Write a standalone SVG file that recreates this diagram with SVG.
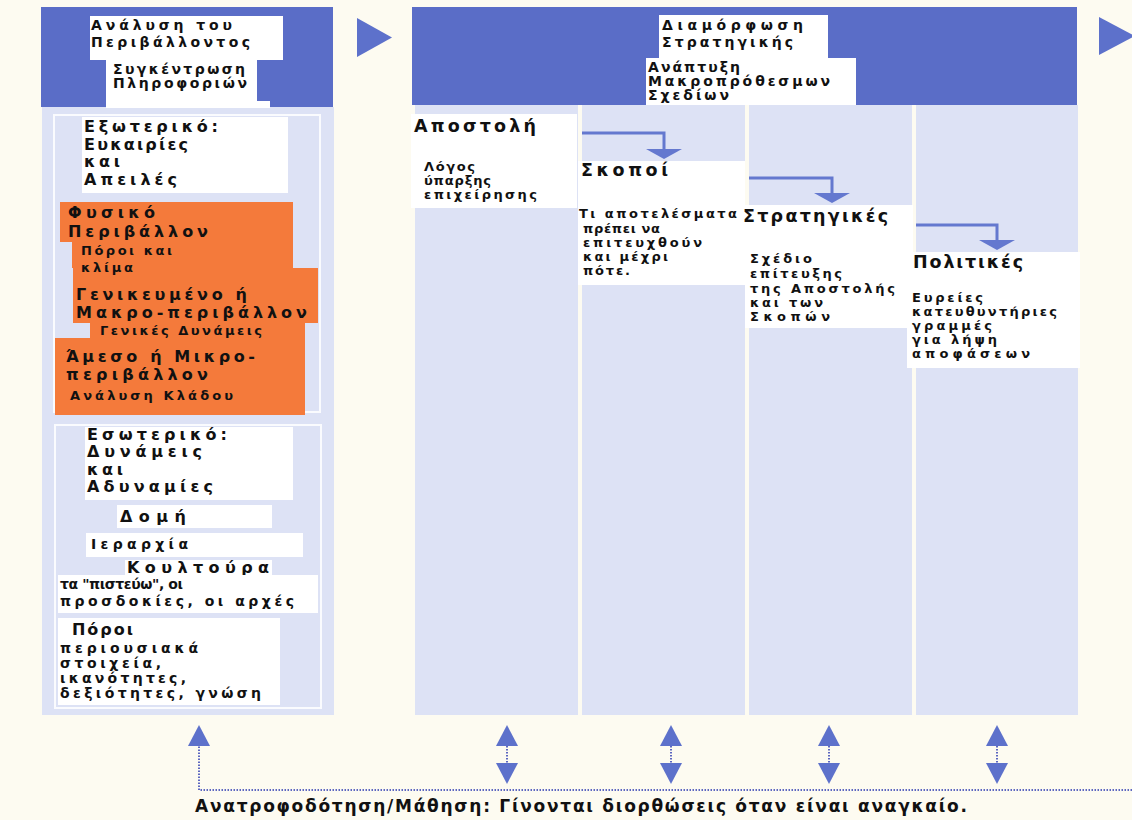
<svg xmlns="http://www.w3.org/2000/svg" width="1132" height="820" viewBox="0 0 1132 820">
  <style>
    .bg { fill: #fdfbf1; }
    .dark { fill: #5a6dc7; }
    .light { fill: #dde2f5; }
    .box { fill: #ffffff; }
    .orange { fill: #f47a3b; }
    .frame { fill: none; stroke: #ffffff; stroke-width: 2; opacity: 0.85; }
    text { font-family: "DejaVu Sans", "Liberation Sans", sans-serif; font-weight: bold; fill: #111111; }
    .big { font-size: 16px; }
    .head { font-size: 17.5px; }
    .mid { font-size: 14px; }
    .sm { font-size: 13px; }
    .foot { font-size: 17px; }
    .bend { fill: none; stroke: #6478cf; stroke-width: 3; }
    .dots { fill: none; stroke: #5c66c0; stroke-width: 2; stroke-dasharray: 1.5 1.5; }
    .tri { fill: #5d71cb; }
  </style>
  <defs>
    <marker id="flatHead" markerUnits="userSpaceOnUse" viewBox="0 0 10 36" markerWidth="10" markerHeight="36" refX="0" refY="18" orient="auto">
      <path d="M0,0 L10,18 L0,36 z" fill="#6478cf"/>
    </marker>
    <marker id="tallHead" markerUnits="userSpaceOnUse" viewBox="0 0 21 22" markerWidth="21" markerHeight="22" refX="0" refY="11" orient="auto-start-reverse">
      <path d="M0,0 L21,11 L0,22 z" fill="#5d71cb"/>
    </marker>
  </defs>

  <rect class="bg" x="0" y="0" width="1132" height="820"/>

  <!-- Left stage: environment analysis -->
  <g id="stage-analysis">
    <rect class="dark" x="41" y="7" width="292" height="100"/>
    <rect class="light" x="42" y="107" width="292" height="608"/>
    <rect class="frame" x="54" y="115" width="266" height="297"/>
    <rect class="frame" x="55" y="425" width="266" height="283"/>
    <polygon class="tri" points="357,18 392,37.5 357,57"/>
  </g>

  <g id="title-analysis">
    <rect class="box" x="90" y="16" width="193" height="44"/>
    <text class="mid" x="91" y="30" textLength="141" lengthAdjust="spacing">Ανάλυση του</text>
    <text class="mid" x="91" y="47" textLength="159" lengthAdjust="spacing">Περιβάλλοντος</text>
  </g>

  <g id="title-information">
    <rect class="box" x="106" y="58" width="151" height="49"/>
    <rect class="box" x="106" y="101" width="164" height="7"/>
    <text class="mid" x="113" y="74" textLength="132" lengthAdjust="spacing">Συγκέντρωση</text>
    <text class="mid" x="113" y="88" textLength="134" lengthAdjust="spacing">Πληροφοριών</text>
  </g>

  <g id="external">
    <rect class="box" x="82" y="117" width="206" height="76"/>
    <text class="big" x="84" y="132" textLength="134" lengthAdjust="spacing">Εξωτερικό:</text>
    <text class="big" x="84" y="150" textLength="104" lengthAdjust="spacing">Ευκαιρίες</text>
    <text class="big" x="84" y="167" textLength="36" lengthAdjust="spacing">και</text>
    <text class="big" x="84" y="185" textLength="93" lengthAdjust="spacing">Απειλές</text>
  </g>

  <g id="macro-env">
    <polygon class="orange" points="73,268 318,268 318,323 305,323 305,338 90,338 90,323 73,323"/>
    <text class="big" x="76" y="300" textLength="171" lengthAdjust="spacing">Γενικευμένο ή</text>
    <text class="big" x="76" y="318" textLength="231" lengthAdjust="spacing">Μακρο-περιβάλλον</text>
    <text class="sm" x="100" y="335" textLength="162" lengthAdjust="spacing">Γενικές Δυνάμεις</text>
  </g>

  <g id="natural-env">
    <polygon class="orange" points="60,202 293,202 293,268 72,268 72,242 60,242"/>
    <text class="big" x="68" y="218" textLength="87" lengthAdjust="spacing">Φυσικό</text>
    <text class="big" x="68" y="237" textLength="140" lengthAdjust="spacing">Περιβάλλον</text>
    <text class="sm" x="81" y="255" textLength="91" lengthAdjust="spacing">Πόροι και</text>
    <text class="sm" x="81" y="272" textLength="52" lengthAdjust="spacing">κλίμα</text>
  </g>

  <g id="micro-env">
    <rect class="orange" x="55" y="338" width="250" height="77"/>
    <text class="big" x="66" y="362" textLength="189" lengthAdjust="spacing">Άμεσο ή Μικρο-</text>
    <text class="big" x="66" y="380" textLength="142" lengthAdjust="spacing">περιβάλλον</text>
    <text class="sm" x="70" y="400" textLength="163" lengthAdjust="spacing">Ανάλυση Κλάδου</text>
  </g>

  <g id="internal">
    <rect class="box" x="85" y="427" width="208" height="73"/>
    <text class="big" x="87" y="440" textLength="140" lengthAdjust="spacing">Εσωτερικό:</text>
    <text class="big" x="87" y="457" textLength="115" lengthAdjust="spacing">Δυνάμεις</text>
    <text class="big" x="87" y="475" textLength="36" lengthAdjust="spacing">και</text>
    <text class="big" x="87" y="492" textLength="126" lengthAdjust="spacing">Αδυναμίες</text>
  </g>

  <g id="structure">
    <rect class="box" x="117" y="505" width="155" height="23"/>
    <text class="big" x="120" y="522" textLength="66" lengthAdjust="spacing">Δομή</text>
  </g>

  <g id="hierarchy">
    <rect class="box" x="86" y="533" width="217" height="24"/>
    <text class="mid" x="91" y="549" textLength="97" lengthAdjust="spacing">Ιεραρχία</text>
  </g>

  <g id="culture">
    <rect class="box" x="125" y="560" width="147" height="16"/>
    <text class="big" x="127" y="573" textLength="142" lengthAdjust="spacing">Κουλτούρα</text>
  </g>

  <g id="beliefs">
    <rect class="box" x="58" y="575" width="260" height="38"/>
    <text class="mid" x="60" y="589" textLength="123" lengthAdjust="spacing">τα "πιστεύω", οι</text>
    <text class="mid" x="60" y="606" textLength="234" lengthAdjust="spacing">προσδοκίες, οι αρχές</text>
  </g>

  <g id="resources">
    <rect class="box" x="58" y="618" width="222" height="87"/>
    <text class="big" x="72" y="635" textLength="61" lengthAdjust="spacing">Πόροι</text>
    <text class="mid" x="60" y="653" textLength="138" lengthAdjust="spacing">περιουσιακά</text>
    <text class="mid" x="60" y="668" textLength="101" lengthAdjust="spacing">στοιχεία,</text>
    <text class="mid" x="60" y="683" textLength="126" lengthAdjust="spacing">ικανότητες,</text>
    <text class="mid" x="60" y="698" textLength="201" lengthAdjust="spacing">δεξιότητες, γνώση</text>
  </g>

  <!-- Right stage: strategy formulation -->
  <g id="stage-formulation">
    <rect class="dark" x="412" y="7" width="665" height="98"/>
    <rect class="light" x="415" y="105" width="163" height="610"/>
    <rect class="light" x="582" y="105" width="163" height="610"/>
    <rect class="light" x="749" y="105" width="163" height="610"/>
    <rect class="light" x="916" y="105" width="162" height="610"/>
    <polygon class="tri" points="1099,17 1135,36 1099,55"/>
  </g>

  <g id="title-formulation">
    <rect class="box" x="659" y="15" width="169" height="43"/>
    <text class="mid" x="662" y="30" textLength="141" lengthAdjust="spacing">Διαμόρφωση</text>
    <text class="mid" x="662" y="47" textLength="131" lengthAdjust="spacing">Στρατηγικής</text>
  </g>

  <g id="title-plans">
    <rect class="box" x="646" y="58" width="210" height="47"/>
    <text class="mid" x="648" y="72" textLength="92" lengthAdjust="spacing">Ανάπτυξη</text>
    <text class="mid" x="648" y="86" textLength="182" lengthAdjust="spacing">Μακροπρόθεσμων</text>
    <text class="mid" x="648" y="100" textLength="81" lengthAdjust="spacing">Σχεδίων</text>
  </g>

  <g id="mission">
    <rect class="box" x="411" y="114" width="166" height="94"/>
    <text class="head" x="414" y="132" textLength="122" lengthAdjust="spacing">Αποστολή</text>
    <text class="sm" x="424" y="171" textLength="51" lengthAdjust="spacing">Λόγος</text>
    <text class="sm" x="424" y="185" textLength="67" lengthAdjust="spacing">ύπαρξης</text>
    <text class="sm" x="424" y="199" textLength="113" lengthAdjust="spacing">επιχείρησης</text>
  </g>

  <g id="objectives">
    <rect class="box" x="578" y="161" width="167" height="124"/>
    <text class="head" x="581" y="176" textLength="87" lengthAdjust="spacing">Σκοποί</text>
    <text class="sm" x="579" y="218" textLength="158" lengthAdjust="spacing">Τι αποτελέσματα</text>
    <text class="sm" x="583" y="233" textLength="77" lengthAdjust="spacing">πρέπει να</text>
    <text class="sm" x="583" y="247" textLength="119" lengthAdjust="spacing">επιτευχθούν</text>
    <text class="sm" x="583" y="261" textLength="85" lengthAdjust="spacing">και μέχρι</text>
    <text class="sm" x="583" y="275" textLength="47" lengthAdjust="spacing">πότε.</text>
  </g>

  <g id="strategies">
    <rect class="box" x="745" y="205" width="168" height="123"/>
    <text class="head" x="743" y="222" textLength="145" lengthAdjust="spacing">Στρατηγικές</text>
    <text class="sm" x="750" y="263" textLength="62" lengthAdjust="spacing">Σχέδιο</text>
    <text class="sm" x="750" y="278" textLength="92" lengthAdjust="spacing">επίτευξης</text>
    <text class="sm" x="750" y="293" textLength="145" lengthAdjust="spacing">της Αποστολής</text>
    <text class="sm" x="750" y="307" textLength="73" lengthAdjust="spacing">και των</text>
    <text class="sm" x="750" y="321" textLength="80" lengthAdjust="spacing">Σκοπών</text>
  </g>

  <g id="policies">
    <rect class="box" x="907" y="252" width="173" height="116"/>
    <text class="head" x="913" y="268" textLength="110" lengthAdjust="spacing">Πολιτικές</text>
    <text class="sm" x="912" y="302" textLength="71" lengthAdjust="spacing">Ευρείες</text>
    <text class="sm" x="912" y="316" textLength="145" lengthAdjust="spacing">κατευθυντήριες</text>
    <text class="sm" x="912" y="330" textLength="80" lengthAdjust="spacing">γραμμές</text>
    <text class="sm" x="912" y="344" textLength="85" lengthAdjust="spacing">για λήψη</text>
    <text class="sm" x="912" y="358" textLength="118" lengthAdjust="spacing">αποφάσεων</text>
  </g>

  <!-- Connectors -->
  <g id="connectors">
    <path class="bend" d="M582,133 H664 V149" marker-end="url(#flatHead)"/>
    <path class="bend" d="M749,178 H832 V193" marker-end="url(#flatHead)"/>
    <path class="bend" d="M916,225 H997 V240" marker-end="url(#flatHead)"/>

    <path class="dots" d="M1132,790 H199 V746" marker-end="url(#tallHead)"/>
    <path class="dots" d="M507,746 V763" marker-start="url(#tallHead)" marker-end="url(#tallHead)"/>
    <path class="dots" d="M671,746 V763" marker-start="url(#tallHead)" marker-end="url(#tallHead)"/>
    <path class="dots" d="M829,746 V763" marker-start="url(#tallHead)" marker-end="url(#tallHead)"/>
    <path class="dots" d="M997,746 V763" marker-start="url(#tallHead)" marker-end="url(#tallHead)"/>
  </g>

  <g id="feedback-label">
    <text class="foot" x="195" y="812" textLength="772" lengthAdjust="spacing">Ανατροφοδότηση/Μάθηση: Γίνονται διορθώσεις όταν είναι αναγκαίο.</text>
  </g>
</svg>
